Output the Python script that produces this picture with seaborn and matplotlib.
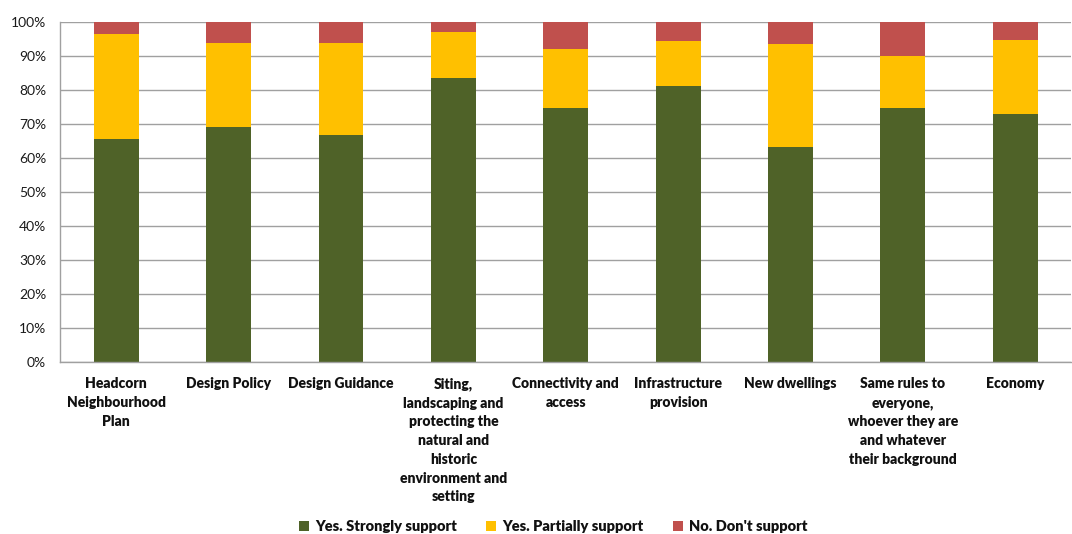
import matplotlib
matplotlib.use("Agg")
import matplotlib.pyplot as plt
import seaborn as sns
import numpy as np
import pandas as pd
from matplotlib.patches import Patch

categories = [
    "Headcorn\nNeighbourhood\nPlan",
    "Design Policy",
    "Design Guidance",
    "Siting,\nlandscaping and\nprotecting the\nnatural and\nhistoric\nenvironment and\nsetting",
    "Connectivity and\naccess",
    "Infrastructure\nprovision",
    "New dwellings",
    "Same rules to\neveryone,\nwhoever they are\nand whatever\ntheir background",
    "Economy",
]
strongly = [65.6, 69.1, 66.7, 83.4, 74.8, 81.2, 63.1, 74.6, 72.8]
partially = [30.9, 24.7, 27.1, 13.6, 17.1, 13.1, 30.3, 15.3, 21.9]
dont = [3.5, 6.2, 6.2, 3.0, 8.1, 5.7, 6.6, 10.1, 5.3]
series_names = ["Yes. Strongly support", "Yes. Partially support", "No. Don't support"]
colors = ["#4F6228", "#FFC000", "#C0504D"]

sns.set_style("white")
plt.rcParams['font.family'] = ['Lato', 'DejaVu Sans']

df = pd.DataFrame({"cat": categories, "s": strongly, "p": partially, "d": dont})
df["sp"] = df["s"] + df["p"]
df["spd"] = df["sp"] + df["d"]

fig = plt.figure(figsize=(10.72, 5.34), dpi=100)
ax = fig.add_axes([0.056, 0.322, 0.9435, 0.637])

for col, c in zip(["spd", "sp", "s"], colors[::-1]):
    sns.barplot(data=df, x="cat", y=col, color=c, width=0.4, ax=ax,
                saturation=1, edgecolor="none", linewidth=0)

ax.set_ylim(0, 100)
ax.set_xlim(-0.5, len(categories) - 0.5)
ax.set_yticks(np.arange(0, 101, 10))
ax.set_yticklabels([f"{v}%" for v in range(0, 101, 10)], fontsize=10, color="#1a1a1a")
ax.yaxis.grid(True, color="#A0A0A0", linewidth=1)
ax.set_axisbelow(True)
ax.set_xlabel("")
ax.set_ylabel("")
ax.set_xticks(range(len(categories)))
ax.set_xticklabels(categories, fontsize=10, fontweight="heavy", va="top",
                   linespacing=1.52, color="#111111")
ax.tick_params(axis="x", length=0, pad=11)
ax.set_xticks(np.arange(-0.5, len(categories), 1), minor=True)
ax.tick_params(axis="x", which="minor", length=5, color="#A0A0A0", direction="out")
ax.tick_params(axis="y", length=4, color="#A0A0A0", direction="out", pad=6)
for s in ["top", "right"]:
    ax.spines[s].set_visible(False)
for s in ["left", "bottom"]:
    ax.spines[s].set_color("#A0A0A0")
    ax.spines[s].set_linewidth(1)

handles = [Patch(facecolor=c, edgecolor="none") for c in colors]
leg = fig.legend(handles, series_names, loc="center", bbox_to_anchor=(0.516, 0.014),
                 ncol=3, frameon=False, handlelength=0.7, handleheight=0.7,
                 columnspacing=2.0, handletextpad=0.4,
                 prop={"size": 10.5, "weight": "heavy"})
for t in leg.get_texts():
    t.set_color("#111111")

fig.savefig("out.png", dpi=100)
